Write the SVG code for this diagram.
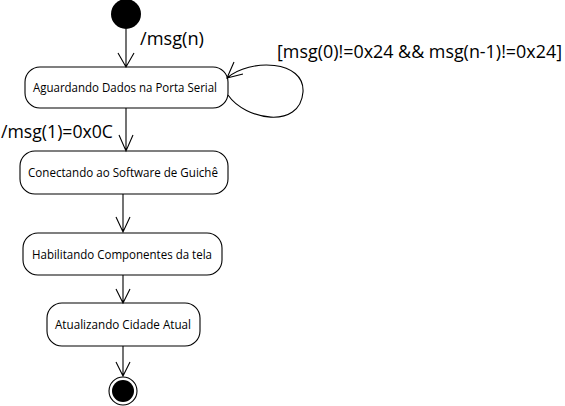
<svg xmlns="http://www.w3.org/2000/svg" width="565" height="406" viewBox="0 0 565 406">
<style>
.box{fill:#fff;stroke:#000;stroke-width:1.1}
.bt{font-family:"Open Sans","Liberation Sans",sans-serif;font-size:12.5px;fill:#000;text-anchor:middle}
.lb{font-family:"Open Sans","Liberation Sans",sans-serif;font-size:18px;fill:#000}
.ln{fill:none;stroke:#000;stroke-width:1.1}
</style>
<rect width="565" height="406" fill="#fff"/>
<g id="start"><circle cx="126" cy="14" r="15" fill="#000"/></g>
<g id="n1"><rect class="box" x="25" y="67" width="203" height="41" rx="15"/><text class="bt" x="125" y="92" textLength="184" lengthAdjust="spacingAndGlyphs">Aguardando Dados na Porta Serial</text></g>
<g id="n2"><rect class="box" x="20" y="151" width="208" height="43" rx="15"/><text class="bt" x="123" y="177" textLength="190" lengthAdjust="spacingAndGlyphs">Conectando ao Software de Guichê</text></g>
<g id="n3"><rect class="box" x="23" y="233" width="199" height="42" rx="15"/><text class="bt" x="122" y="259" textLength="180" lengthAdjust="spacingAndGlyphs">Habilitando Componentes da tela</text></g>
<g id="n4"><rect class="box" x="47" y="303" width="153" height="43" rx="15"/><text class="bt" x="123" y="329" textLength="136" lengthAdjust="spacingAndGlyphs">Atualizando Cidade Atual</text></g>
<g id="end"><circle cx="123" cy="391" r="14" fill="#fff" stroke="#000" stroke-width="1.1"/><circle cx="123" cy="391" r="11" fill="#000"/></g>
<g id="connectors">
<path class="ln" d="M126 29V67M118 53L126 67L134 53"/>
<path class="ln" d="M126 108V151M119 135L126 151L133 135"/>
<path class="ln" d="M123 194V232M116 217L123 232L130 217"/>
<path class="ln" d="M123 275V303M116 289L123 303L130 289"/>
<path class="ln" d="M123 346V376M116 362L123 376L130 362"/>
<path class="ln" d="M228 95C245 120 300 130 303 92C305 60 250 58 227 78M234 62L227 78L243 74"/>
</g>
<g id="labels">
<text class="lb" x="140" y="45" textLength="64" lengthAdjust="spacingAndGlyphs">/msg(n)</text>
<text class="lb" x="277" y="58" textLength="285" lengthAdjust="spacingAndGlyphs">[msg(0)!=0x24 &amp;&amp; msg(n-1)!=0x24]</text>
<text class="lb" x="1" y="138" textLength="112" lengthAdjust="spacingAndGlyphs">/msg(1)=0x0C</text>
</g>
</svg>
